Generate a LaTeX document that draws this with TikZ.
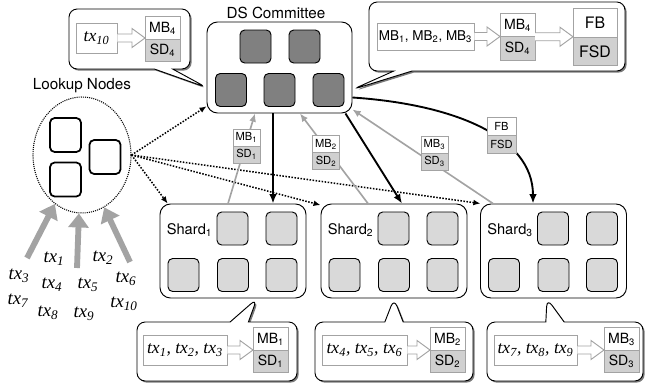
\documentclass[tikz,border=0pt]{standalone}
\usepackage{fontspec}
\setmainfont{TeX Gyre Heros}
\newfontfamily\txfont{Liberation Serif}
\usetikzlibrary{arrows.meta,calc,positioning,shapes.geometric,shapes.callouts,shadows}

\definecolor{dsgray}{HTML}{808080}
\definecolor{shardgray}{HTML}{D9D9D9}
\definecolor{sdgray}{HTML}{D0D0D0}
\definecolor{linegray}{HTML}{A3A3A3}

% hollow block arrow from #1 to the tip #2 (units: px)
\newcommand{\blockarrow}[2]{%
  \draw[hollow] ($(#1)+(0,-4)$) -- ($(#2)+(-13,-4)$) -- ($(#2)+(-13,-9.5)$) -- (#2)
    -- ($(#2)+(-13,9.5)$) -- ($(#2)+(-13,4)$) -- ($(#1)+(0,4)$);}

\tikzset{
  member/.style={draw, thick, rounded corners=4pt, minimum width=0.93cm, minimum height=0.99cm},
  dsmember/.style={member, fill=dsgray},
  shardmember/.style={member, fill=shardgray},
  lookupmember/.style={member, fill=white, line width=1.5pt, minimum height=1.02cm},
  group/.style={draw, thick, rounded corners=9pt, fill=white, inner sep=0pt},
  bubble/.style={rectangle callout, draw, thick, rounded corners=7pt, fill=white, inner sep=0pt,
    callout pointer width=0.55cm,
    drop shadow={shadow xshift=1.4pt, shadow yshift=-1.4pt, opacity=.65, fill=black!80}},
  txbox/.style={draw=linegray, thick, fill=white, inner sep=0pt},
  txfont/.style={font=\fontsize{15}{15}\selectfont\txfont\itshape},
  mbcell/.style={draw=linegray, thick, fill=white, inner sep=0pt, outer sep=0pt,
    minimum width=1.05cm, minimum height=0.675cm, font=\fontsize{12}{12}\selectfont},
  sdcell/.style={mbcell, fill=sdgray},
  tag/.style={draw=linegray, thick, fill=white, inner sep=0pt, outer sep=0pt,
    minimum width=0.81cm, minimum height=0.51cm, font=\fontsize{9.5}{9.5}\selectfont},
  sdtag/.style={tag, fill=sdgray},
  hollow/.style={draw=linegray, thick, fill=white, line join=miter},
  push/.style={line width=1.6pt, -{Latex[length=8pt, width=6.5pt]}},
  report/.style={linegray, line width=1.4pt, -{Latex[length=7pt, width=6pt]}},
  query/.style={dash pattern=on 1.3pt off 1.3pt, line width=1.3pt, -{Latex[length=6pt, width=5pt]}},
  submit/.style={linegray, line width=5pt, -{Triangle[length=12pt, width=17pt]}},
  txlabel/.style={font=\fontsize{16}{16}\selectfont\txfont\itshape, inner sep=0pt},
}

\begin{document}
\begin{tikzpicture}[x=0.03cm, y=-0.03cm]
\useasboundingbox (0,0) rectangle (645,387);

% DS committee
\node[font=\fontsize{13}{13}\selectfont] (dslabel) at (276,13) {DS Committee};
\node[group, minimum width=4.35cm, minimum height=2.73cm] (committee) at (279.5,67.5) {};
\node[dsmember] (ds-a) at (255.5,46.5) {};
\node[dsmember] (ds-b) at (304.5,46.5) {};
\node[dsmember] (ds-c) at (231,90) {};
\node[dsmember] (ds-d) at (279.5,90) {};
\node[dsmember] (ds-e) at (328.5,90) {};

% Shards
\foreach \s/\cx in {1/233,2/394,3/553.5} {
  \node[group, minimum width=4.38cm, minimum height=2.82cm] (shard\s) at (\cx,251) {};
  \node[font=\fontsize{12.5}{12.5}\selectfont] (shard\s-label) at (\cx-43.5,230) {Shard\textsubscript{\s}};
  \node[shardmember] (shard\s-a) at (\cx-0.5,228.5) {};
  \node[shardmember] (shard\s-b) at (\cx+48.5,228.5) {};
  \node[shardmember] (shard\s-c) at (\cx-49.5,275) {};
  \node[shardmember] (shard\s-d) at (\cx,275) {};
  \node[shardmember] (shard\s-e) at (\cx+48.5,275) {};
}

% Lookup nodes
\node[font=\fontsize{13}{13}\selectfont] (lookuplabel) at (82,86) {Lookup Nodes};
\node[ellipse, draw, line width=0.9pt, dash pattern=on 0.9pt off 0.9pt,
  minimum width=2.94cm, minimum height=3.48cm] (lookup) at (82,155) {};
\node[lookupmember] (lk-a) at (65.5,135) {};
\node[lookupmember] (lk-b) at (105,157) {};
\node[lookupmember] (lk-c) at (65.5,179.5) {};

% Transactions
\node[txlabel] (tx1) at (54,259) {tx\textsubscript{1}};
\node[txlabel] (tx2) at (103,258) {tx\textsubscript{2}};
\node[txlabel] (tx3) at (19,276) {tx\textsubscript{3}};
\node[txlabel] (tx4) at (52,285) {tx\textsubscript{4}};
\node[txlabel] (tx5) at (88,285) {tx\textsubscript{5}};
\node[txlabel] (tx6) at (126,279) {tx\textsubscript{6}};
\node[txlabel] (tx7) at (18,301) {tx\textsubscript{7}};
\node[txlabel] (tx8) at (48,313) {tx\textsubscript{8}};
\node[txlabel] (tx9) at (84,314) {tx\textsubscript{9}};
\node[txlabel] (tx10) at (124,304) {tx\textsubscript{10}};

\coordinate (in-a) at (27,258);
\coordinate (in-b) at (77,268);
\coordinate (in-c) at (130,262);
\draw[submit] (in-a) -- (lookup.241);
\draw[submit] (in-b) -- (lookup.267);
\draw[submit] (in-c) -- (lookup.293);

% Lookup -> committee and shards
\draw[query] (lookup.east) -- (committee.208);
\draw[query] (lookup.east) -- (shard1.144.5);
\draw[query] (lookup.east) -- (shard2.148.7);
\draw[query] (lookup.east) -- (shard3.147.5);

% Shards -> committee
\draw[report] ($(shard1.north)+(-5,0)$) -- ($(committee.south)+(-24.5,0)$);
\draw[report] ($(shard2.north)+(-26,0)$) -- ($(committee.south)+(20.5,0)$);
\draw[report] ($(shard3.north)+(-60.5,0)$) -- ($(committee.south east)+(0,-4)$);

% Committee -> shards
\draw[push] ($(committee.south)+(-6.5,0)$) -- ($(shard1.north)+(40,0)$);
\draw[push] ($(committee.south east)+(-7,0)$) -- ($(shard2.north)+(8,0)$);
\draw[push] ($(committee.east)+(0,30)$) .. controls (450,104) and (533,135) .. ($(shard3.north)+(-20.5,0)$);

% Tags on arrows
\node[tag] (mbtag1) at (246.5,137.5) {MB\textsubscript{1}};
\node[sdtag, below=0pt of mbtag1] (sdtag1) {SD\textsubscript{1}};
\node[tag] (mbtag2) at (326,144) {MB\textsubscript{2}};
\node[sdtag, below=0pt of mbtag2] (sdtag2) {SD\textsubscript{2}};
\node[tag] (mbtag3) at (434.5,144.5) {MB\textsubscript{3}};
\node[sdtag, below=0pt of mbtag3] (sdtag3) {SD\textsubscript{3}};
\node[tag, minimum width=0.87cm, minimum height=0.54cm] (fbtag) at (501.5,126) {FB};
\node[sdtag, minimum width=0.87cm, minimum height=0.54cm, below=0pt of fbtag] (fsdtag) {FSD};

% Callout: committee, own shard
\node[bubble, minimum width=3.63cm, minimum height=1.8cm,
  callout absolute pointer={($(committee.west)+(0,20)$)}] (note-ds) at (129.5,39) {};
\node[txbox, txfont, minimum width=1.23cm, minimum height=0.9cm] (txten) at (96.5,38) {tx\textsubscript{10}};
\node[mbcell] (mbfour) at (162.5,28) {MB\textsubscript{4}};
\node[sdcell, below=0pt of mbfour] (sdfour) {SD\textsubscript{4}};
\blockarrow{txten.east}{txten.east -| mbfour.west}

% Callout: committee, final block
\node[bubble, minimum width=7.68cm, minimum height=2.07cm,
  callout absolute pointer={($(committee.east)+(0,22)$)}] (note-final) at (497,36.5) {};
\node[txbox, minimum width=2.91cm, minimum height=0.81cm, font=\fontsize{11.5}{11.5}\selectfont] (mbs)
  at (425.5,36.5) {MB\textsubscript{1}, MB\textsubscript{2}, MB\textsubscript{3}};
\node[mbcell, minimum height=0.705cm] (mbfour-b) at (517.5,25) {MB\textsubscript{4}};
\node[sdcell, minimum height=0.705cm, below=0pt of mbfour-b] (sdfour-b) {SD\textsubscript{4}};
\node[mbcell, minimum width=1.32cm, minimum height=0.855cm, font=\fontsize{13.5}{13.5}\selectfont] (fb) at (595,23) {FB};
\node[sdcell, minimum width=1.32cm, minimum height=0.855cm, font=\fontsize{13.5}{13.5}\selectfont, below=0pt of fb] (fsd) {FSD};
\blockarrow{mbs.east}{mbs.east -| mbfour-b.west}
\blockarrow{mbfour-b.south east}{mbfour-b.south east -| fb.west}

% Callouts: shards
\node[bubble, minimum width=4.8cm, minimum height=1.77cm,
  callout absolute pointer={($(shard1.south)+(24,0)$)}] (note-s1) at (217,351.5) {};
\node[txbox, txfont, minimum width=2.52cm, minimum height=0.9cm] (txs1) at (185,350)
  {tx\textsubscript{1}, tx\textsubscript{2}, tx\textsubscript{3}};
\node[mbcell] (mbone) at (270.5,339) {MB\textsubscript{1}};
\node[sdcell, below=0pt of mbone] (sdone) {SD\textsubscript{1}};
\blockarrow{txs1.east}{txs1.east -| mbone.west}

\node[bubble, minimum width=4.74cm, minimum height=1.77cm,
  callout absolute pointer={(shard2.south)}] (note-s2) at (394,351.5) {};
\node[txbox, txfont, minimum width=2.55cm, minimum height=0.9cm] (txs2) at (364.5,350)
  {tx\textsubscript{4}, tx\textsubscript{5}, tx\textsubscript{6}};
\node[mbcell] (mbtwo) at (447.5,339) {MB\textsubscript{2}};
\node[sdcell, below=0pt of mbtwo] (sdtwo) {SD\textsubscript{2}};
\blockarrow{txs2.east}{txs2.east -| mbtwo.west}

\node[bubble, minimum width=4.68cm, minimum height=1.77cm,
  callout absolute pointer={($(shard3.south)+(-6.5,0)$)}] (note-s3) at (565,351.5) {};
\node[txbox, txfont, minimum width=2.49cm, minimum height=0.9cm] (txs3) at (535.5,350)
  {tx\textsubscript{7}, tx\textsubscript{8}, tx\textsubscript{9}};
\node[mbcell] (mbthree) at (621.5,339) {MB\textsubscript{3}};
\node[sdcell, below=0pt of mbthree] (sdthree) {SD\textsubscript{3}};
\blockarrow{txs3.east}{txs3.east -| mbthree.west}

\end{tikzpicture}
\end{document}
